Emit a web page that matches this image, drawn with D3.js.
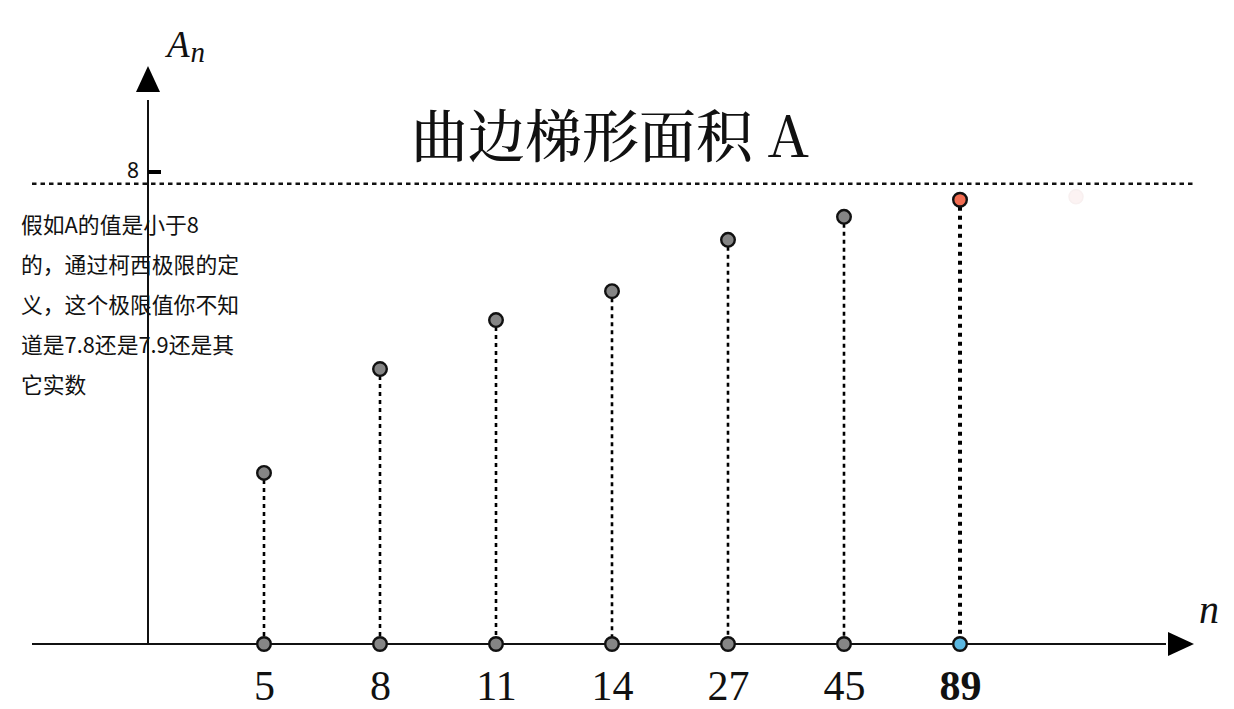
<!DOCTYPE html>
<html>
<head>
<meta charset="utf-8">
<script src="https://cdn.jsdelivr.net/npm/d3@7"></script>
<style>
  html, body { margin: 0; padding: 0; background: #fff; }
  svg { display: block; }
</style>
</head>
<body>
<svg id="chart" width="1234" height="709"></svg>
<script>
// ---- data ----
const categories = ["5", "8", "11", "14", "27", "45", "89"];
const values = [2.9, 4.66, 5.49, 5.98, 6.85, 7.24, 7.53];
const limitValue = 7.8;
const yTickValues = [8];
const ghostValues = [7.58]; // faint fading point after the last category
const title = "曲边梯形面积 A";
const noteLines = ["假如A的值是小于8", "的，通过柯西极限的定", "义，这个极限值你不知", "道是7.8还是7.9还是其", "它实数"];

// ---- layout ----
const svg = d3.select("#chart");
const originX = 148, originY = 644;
const x = d3.scaleLinear().domain([0, categories.length - 1]).range([264, 960]);
const y = d3.scaleLinear().domain([0, 8]).range([originY, 172]);

const serif = "'Liberation Serif', 'Times New Roman', 'Noto Sans CJK SC', serif";
const sans = "'Noto Sans CJK SC', 'Noto Sans', sans-serif";

// note text (drawn under the axis)
const note = svg.append("text")
  .attr("font-family", sans)
  .attr("font-size", 21.8)
  .attr("fill", "#111");
noteLines.forEach((t, i) => {
  note.append("tspan").attr("x", 21).attr("y", 233 + 40 * i).text(t);
});

// title
svg.append("text")
  .attr("x", 610).attr("y", 157)
  .attr("text-anchor", "middle")
  .attr("font-family", "'Noto Serif CJK SC', 'Liberation Serif', 'Noto Sans CJK SC', serif")
  .attr("font-size", 57)
  .attr("font-weight", 500)
  .attr("fill", "#111")
  .text(title);

// dashed limit line
svg.append("line")
  .attr("x1", 32).attr("x2", 1196)
  .attr("y1", y(limitValue)).attr("y2", y(limitValue))
  .attr("stroke", "#111").attr("stroke-width", 2.5)
  .attr("stroke-dasharray", "4.5,4");

// y axis line + arrow
svg.append("line")
  .attr("x1", originX).attr("x2", originX)
  .attr("y1", 100).attr("y2", originY)
  .attr("stroke", "#111").attr("stroke-width", 2);
svg.append("path")
  .attr("d", d3.line()([[originX, 66], [originX - 12, 92], [originX + 12, 92]]) + "Z")
  .attr("fill", "#000");

// y tick "8"
const yAxis = d3.axisLeft(y).tickValues(yTickValues).tickSize(0).tickPadding(9);
const yg = svg.append("g").attr("transform", `translate(${originX},0)`).call(yAxis);
yg.select(".domain").remove();
yg.attr("font-size", 21);
yg.selectAll("text")
  .style("font-family", "'Noto Sans', sans-serif").style("font-size", "21px").attr("fill", "#111")
  .attr("dy", "0.35em").attr("y", -2);
svg.selectAll(".ytickmark").data(yTickValues).join("line")
  .attr("class", "ytickmark")
  .attr("x1", originX).attr("x2", originX + 13)
  .attr("y1", d => y(d)).attr("y2", d => y(d))
  .attr("stroke", "#000").attr("stroke-width", 4);

// x axis line + arrow
svg.append("line")
  .attr("x1", 32).attr("x2", 1166)
  .attr("y1", originY).attr("y2", originY)
  .attr("stroke", "#111").attr("stroke-width", 2);
svg.append("path")
  .attr("d", d3.line()([[1194, originY], [1168, originY - 12], [1168, originY + 12]]) + "Z")
  .attr("fill", "#000");

// axis labels
const an = svg.append("text")
  .attr("x", 167).attr("y", 57)
  .attr("font-family", serif).attr("font-style", "italic")
  .attr("font-size", 37).attr("fill", "#111");
an.append("tspan").text("A");
an.append("tspan").attr("font-size", 29).attr("dy", 5).attr("dx", 1).text("n");
svg.append("text")
  .attr("x", 1199).attr("y", 623)
  .attr("font-family", serif).attr("font-style", "italic")
  .attr("font-size", 40).attr("fill", "#111")
  .text("n");

// x tick labels
const xAxis = d3.axisBottom(x)
  .tickValues(d3.range(categories.length))
  .tickFormat(i => categories[i])
  .tickSize(0).tickPadding(0);
const xg = svg.append("g").attr("transform", `translate(0,${originY})`).call(xAxis);
xg.select(".domain").remove();
xg.selectAll("text")
  .attr("dy", null).attr("y", 56)
  .attr("font-family", serif).attr("font-size", 42).attr("fill", "#111")
  .attr("font-weight", (d, i) => i === categories.length - 1 ? "bold" : "normal");

// stems
const last = categories.length - 1;
svg.selectAll(".stem").data(values).join("line")
  .attr("class", "stem")
  .attr("x1", (d, i) => x(i)).attr("x2", (d, i) => x(i))
  .attr("y1", d => y(d) + 7).attr("y2", originY - 7)
  .attr("stroke", "#000")
  .attr("stroke-width", (d, i) => i === last ? 4 : 2.6)
  .attr("stroke-dasharray", (d, i) => i === last ? "4,5" : "4,4");

// ghost point
svg.selectAll(".ghost").data(ghostValues).join("circle")
  .attr("class", "ghost")
  .attr("cx", (d, i) => x(last + 1 + i)).attr("cy", d => y(d))
  .attr("r", 7)
  .attr("fill", "#fcf3f3").attr("stroke", "#f8f0f0").attr("stroke-width", 1.5);

// base points on x axis
svg.selectAll(".base").data(values).join("circle")
  .attr("class", "base")
  .attr("cx", (d, i) => x(i)).attr("cy", originY)
  .attr("r", 6.8)
  .attr("fill", (d, i) => i === last ? "#5bb8e2" : "#858585")
  .attr("stroke", "#111").attr("stroke-width", 2.4);

// top points
svg.selectAll(".pt").data(values).join("circle")
  .attr("class", "pt")
  .attr("cx", (d, i) => x(i)).attr("cy", d => y(d))
  .attr("r", 6.8)
  .attr("fill", (d, i) => i === last ? "#f26d52" : "#858585")
  .attr("stroke", "#111").attr("stroke-width", 2.4);
</script>
</body>
</html>
